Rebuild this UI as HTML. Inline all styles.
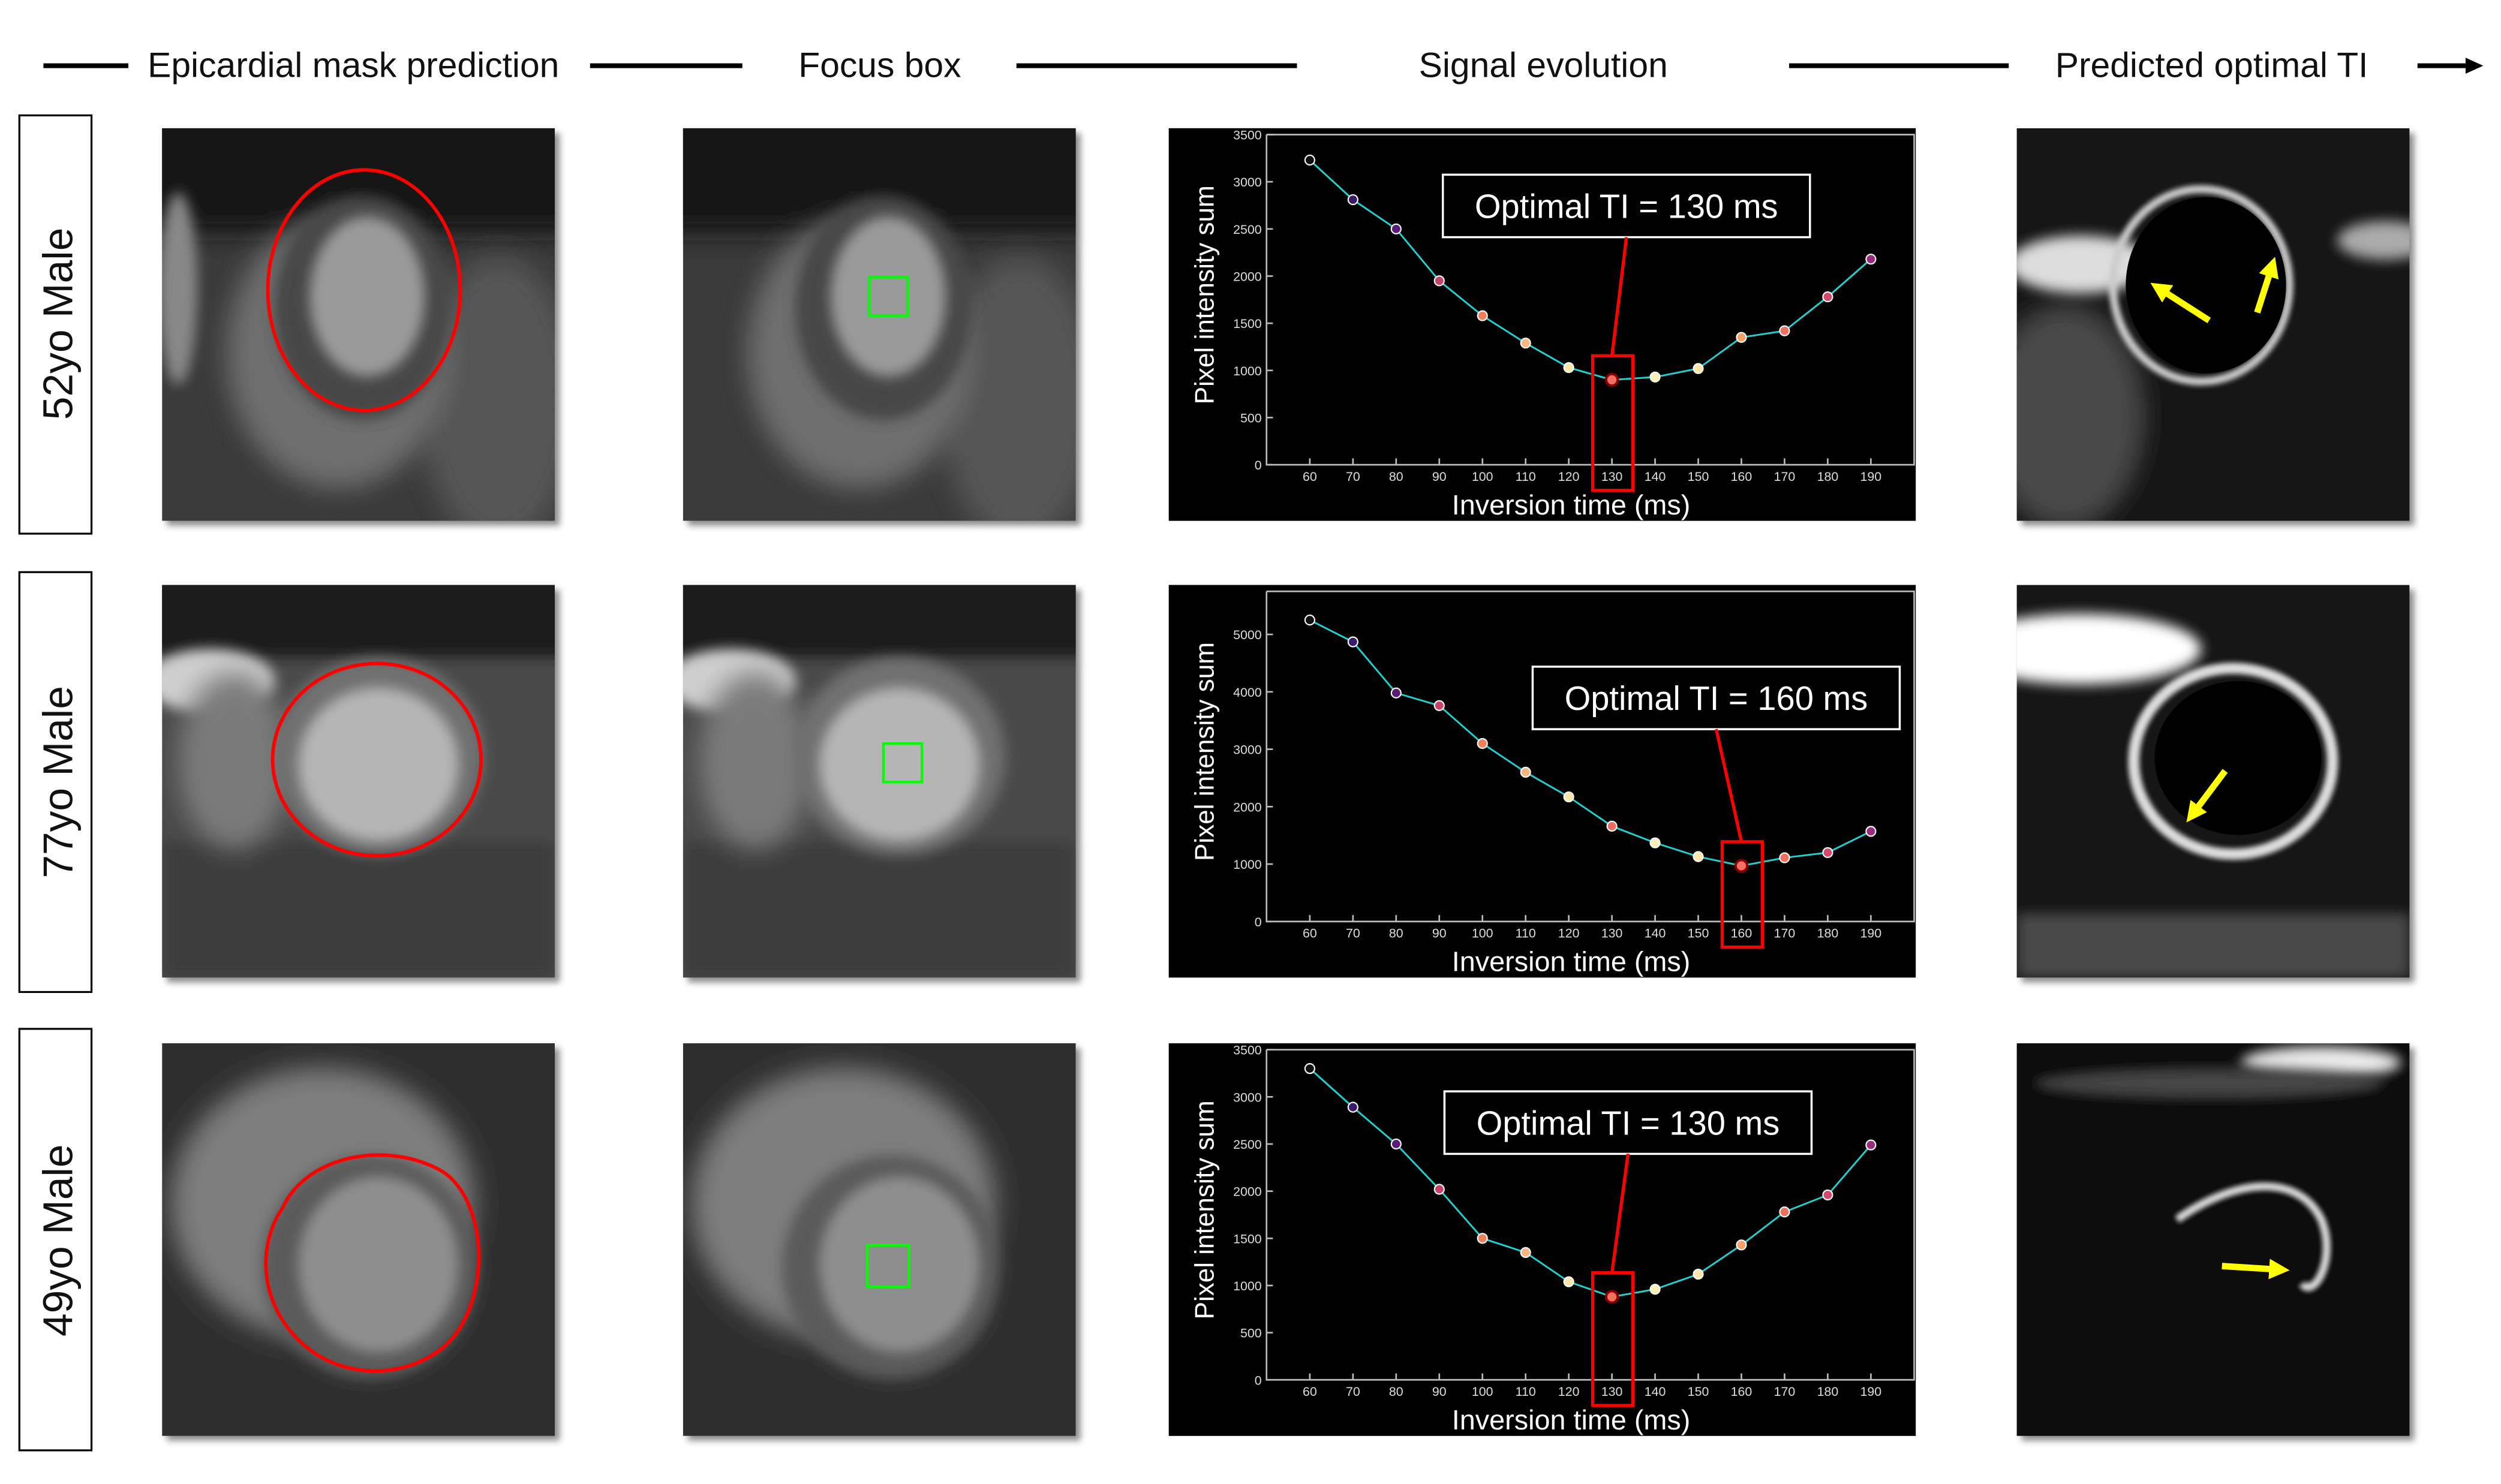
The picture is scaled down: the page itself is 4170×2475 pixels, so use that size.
<!DOCTYPE html>
<html><head><meta charset="utf-8"><style>
html,body{margin:0;padding:0;background:#fff;}
svg{display:block;}
text{font-family:"Liberation Sans",sans-serif;}
</style></head><body>
<svg id="fig" width="4170" height="2475" viewBox="0 0 1560 926" xmlns="http://www.w3.org/2000/svg">
<defs>
<filter id="b4" x="-50%" y="-50%" width="200%" height="200%"><feGaussianBlur stdDeviation="4"/></filter>
<filter id="b8" x="-50%" y="-50%" width="200%" height="200%"><feGaussianBlur stdDeviation="8"/></filter>
<filter id="b2" x="-50%" y="-50%" width="200%" height="200%"><feGaussianBlur stdDeviation="1.6"/></filter>
<filter id="sh" x="-10%" y="-10%" width="130%" height="130%"><feDropShadow dx="3" dy="3" stdDeviation="2" flood-color="#000" flood-opacity="0.45"/></filter>
<clipPath id="c"><rect x="0" y="0" width="245" height="245"/></clipPath>
<marker id="ah" viewBox="0 0 10 10" refX="2" refY="5" markerWidth="3.2" markerHeight="3.2" orient="auto"><polygon points="0,0 10,5 0,10" fill="#ff0"/></marker>
</defs>

<!-- header -->
<g fill="#111" font-size="22">
<line x1="27" y1="41" x2="80" y2="41" stroke="#000" stroke-width="3"/>
<text x="92" y="48">Epicardial mask prediction</text>
<line x1="368" y1="41" x2="463" y2="41" stroke="#000" stroke-width="3"/>
<text x="498" y="48">Focus box</text>
<line x1="634" y1="41" x2="809" y2="41" stroke="#000" stroke-width="3"/>
<text x="885" y="48">Signal evolution</text>
<line x1="1116" y1="41" x2="1253" y2="41" stroke="#000" stroke-width="3"/>
<text x="1282" y="48">Predicted optimal TI</text>
<line x1="1508" y1="41" x2="1540" y2="41" stroke="#000" stroke-width="3"/>
<polygon points="1538,36 1549,41 1538,46" fill="#000"/>
</g>

<!-- row labels -->
<g font-size="26" fill="#111">
<rect x="12" y="72" width="45" height="261" fill="#fff" stroke="#000" stroke-width="1.2"/>
<text transform="translate(45,202) rotate(-90)" text-anchor="middle">52yo Male</text>
<rect x="12" y="357" width="45" height="262" fill="#fff" stroke="#000" stroke-width="1.2"/>
<text transform="translate(45,488) rotate(-90)" text-anchor="middle">77yo Male</text>
<rect x="12" y="642" width="45" height="263" fill="#fff" stroke="#000" stroke-width="1.2"/>
<text transform="translate(45,774) rotate(-90)" text-anchor="middle">49yo Male</text>
</g>

<!-- row 1 images -->
<g transform="translate(101,80)" filter="url(#sh)">
 <g clip-path="url(#c)"><rect width="245" height="245" fill="#3a3a3a"/>
 <rect x="-20" y="-20" width="290" height="85" fill="#161616" filter="url(#b8)"/>
 <ellipse cx="210" cy="170" rx="50" ry="90" fill="#555" filter="url(#b8)"/>
 <ellipse cx="110" cy="140" rx="70" ry="85" fill="#6e6e6e" filter="url(#b8)"/>
 <ellipse cx="125" cy="112" rx="55" ry="70" fill="#464646" filter="url(#b4)"/>
 <ellipse cx="128" cy="105" rx="36" ry="50" fill="#9a9a9a" filter="url(#b4)"/>
 <ellipse cx="10" cy="100" rx="12" ry="60" fill="#888" filter="url(#b4)"/></g>
 <ellipse cx="126" cy="101" rx="60" ry="75" fill="none" stroke="#f00" stroke-width="2.2"/>
</g>
<g transform="translate(426,80)" filter="url(#sh)">
 <g clip-path="url(#c)"><rect width="245" height="245" fill="#3a3a3a"/>
 <rect x="-20" y="-20" width="290" height="85" fill="#161616" filter="url(#b8)"/>
 <ellipse cx="210" cy="170" rx="50" ry="90" fill="#555" filter="url(#b8)"/>
 <ellipse cx="110" cy="140" rx="70" ry="85" fill="#6e6e6e" filter="url(#b8)"/>
 <ellipse cx="125" cy="112" rx="55" ry="70" fill="#464646" filter="url(#b4)"/>
 <ellipse cx="128" cy="105" rx="36" ry="50" fill="#9a9a9a" filter="url(#b4)"/></g>
 <rect x="116" y="93" width="24" height="24" fill="none" stroke="#0f0" stroke-width="1.6"/>
</g>
<g transform="translate(1258,80)" filter="url(#sh)">
 <g clip-path="url(#c)"><rect width="245" height="245" fill="#151515"/>
 <ellipse cx="30" cy="180" rx="50" ry="70" fill="#4a4a4a" filter="url(#b8)"/>
 <ellipse cx="40" cy="85" rx="45" ry="18" fill="#ddd" filter="url(#b4)"/>
 <ellipse cx="115" cy="98" rx="55" ry="60" fill="none" stroke="#ccc" stroke-width="5" filter="url(#b2)"/>
 <ellipse cx="118" cy="98" rx="50" ry="55" fill="#000"/>
 <ellipse cx="230" cy="70" rx="30" ry="12" fill="#aaa" filter="url(#b4)"/></g>
 <line x1="120" y1="120" x2="92" y2="102" stroke="#ff0" stroke-width="4" marker-end="url(#ah)"/>
 <line x1="150" y1="115" x2="158" y2="90" stroke="#ff0" stroke-width="4" marker-end="url(#ah)"/>
</g>

<!-- row 2 images -->
<g transform="translate(101,365)" filter="url(#sh)">
 <g clip-path="url(#c)"><rect width="245" height="245" fill="#4a4a4a"/>
 <rect x="-20" y="-20" width="290" height="65" fill="#1e1e1e" filter="url(#b4)"/>
 <rect y="160" width="245" height="85" fill="#3e3e3e" filter="url(#b4)"/>
 <ellipse cx="30" cy="60" rx="40" ry="20" fill="#cfcfcf" filter="url(#b4)"/>
 <ellipse cx="45" cy="110" rx="35" ry="55" fill="#7a7a7a" filter="url(#b8)"/>
 <ellipse cx="135" cy="107" rx="66" ry="62" fill="#707070" filter="url(#b4)"/>
 <ellipse cx="135" cy="112" rx="50" ry="48" fill="#b5b5b5" filter="url(#b4)"/></g>
 <ellipse cx="134" cy="109" rx="65" ry="60" fill="none" stroke="#f00" stroke-width="2.2"/>
</g>
<g transform="translate(426,365)" filter="url(#sh)">
 <g clip-path="url(#c)"><rect width="245" height="245" fill="#4a4a4a"/>
 <rect x="-20" y="-20" width="290" height="65" fill="#1e1e1e" filter="url(#b4)"/>
 <rect y="160" width="245" height="85" fill="#3e3e3e" filter="url(#b4)"/>
 <ellipse cx="30" cy="60" rx="40" ry="20" fill="#cfcfcf" filter="url(#b4)"/>
 <ellipse cx="45" cy="110" rx="35" ry="55" fill="#7a7a7a" filter="url(#b8)"/>
 <ellipse cx="135" cy="107" rx="66" ry="62" fill="#707070" filter="url(#b4)"/>
 <ellipse cx="135" cy="112" rx="50" ry="48" fill="#b5b5b5" filter="url(#b4)"/></g>
 <rect x="125" y="99" width="24" height="24" fill="none" stroke="#0f0" stroke-width="1.6"/>
</g>
<g transform="translate(1258,365)" filter="url(#sh)">
 <g clip-path="url(#c)"><rect width="245" height="245" fill="#151515"/>
 <ellipse cx="40" cy="40" rx="75" ry="22" fill="#fff" filter="url(#b4)"/>
 <rect y="205" width="245" height="40" fill="#4a4a4a" filter="url(#b4)"/>
 <ellipse cx="135" cy="110" rx="62" ry="58" fill="none" stroke="#ddd" stroke-width="7" filter="url(#b2)"/>
 <ellipse cx="138" cy="108" rx="52" ry="48" fill="#000"/></g>
 <line x1="130" y1="116" x2="112" y2="140" stroke="#ff0" stroke-width="4" marker-end="url(#ah)"/>
</g>

<!-- row 3 images -->
<g transform="translate(101,651)" filter="url(#sh)">
 <g clip-path="url(#c)"><rect width="245" height="245" fill="#2e2e2e"/>
 <ellipse cx="100" cy="100" rx="95" ry="85" fill="#7d7d7d" filter="url(#b8)"/>
 <ellipse cx="130" cy="140" rx="68" ry="70" fill="#5a5a5a" filter="url(#b4)"/>
 <ellipse cx="135" cy="138" rx="50" ry="55" fill="#8e8e8e" filter="url(#b4)"/></g>
 <path d="M75,103 C90,70 140,60 175,80 C205,100 205,165 175,190 C150,210 110,210 85,185 C60,160 60,125 75,103 Z" fill="none" stroke="#f00" stroke-width="2.2"/>
</g>
<g transform="translate(426,651)" filter="url(#sh)">
 <g clip-path="url(#c)"><rect width="245" height="245" fill="#2e2e2e"/>
 <ellipse cx="100" cy="100" rx="95" ry="85" fill="#7d7d7d" filter="url(#b8)"/>
 <ellipse cx="130" cy="140" rx="68" ry="70" fill="#5a5a5a" filter="url(#b4)"/>
 <ellipse cx="135" cy="138" rx="50" ry="55" fill="#8e8e8e" filter="url(#b4)"/></g>
 <rect x="115" y="126" width="26" height="26" fill="none" stroke="#0f0" stroke-width="1.6"/>
</g>
<g transform="translate(1258,651)" filter="url(#sh)">
 <g clip-path="url(#c)"><rect width="245" height="245" fill="#080808"/>
 <ellipse cx="190" cy="12" rx="50" ry="10" fill="#eee" filter="url(#b4)"/>
 <path d="M100,110 C135,85 175,80 190,110 C200,135 185,160 178,150" fill="none" stroke="#ddd" stroke-width="5" filter="url(#b2)"/>
 <ellipse cx="120" cy="25" rx="110" ry="10" fill="#444" filter="url(#b4)"/></g>
 <line x1="128" y1="139" x2="160" y2="141" stroke="#ff0" stroke-width="4" marker-end="url(#ah)"/>
</g>

<g id="charts"></g>
</svg>
<script>
const categories = [60,70,80,90,100,110,120,130,140,150,160,170,180,190];
const seriesRow1 = [3230,2810,2500,1950,1580,1290,1030,900,930,1020,1350,1420,1780,2180];
const seriesRow2 = [5250,4870,3980,3760,3100,2600,2170,1660,1370,1130,970,1110,1200,1570];
const seriesRow3 = [3300,2890,2500,2020,1500,1350,1040,880,960,1120,1430,1780,1960,2490];
const yTicksRow1 = [0,500,1000,1500,2000,2500,3000,3500];
const yTicksRow2 = [0,1000,2000,3000,4000,5000];
const yTicksRow3 = [0,500,1000,1500,2000,2500,3000,3500];
const yMaxes = [3500,5750,3500];
const optimalTI = [130,160,130];
const markerColors = ['#111','#3b1a6e','#5c1a7a','#c7436a','#f0805a','#fbb57e','#fde7a8','#f26a60','#fcf0b4','#fde7a8','#f8a06a','#f07060','#d5486e','#9c2b7e'];

const NS = 'http://www.w3.org/2000/svg';
function mk(tag, attrs, parent){const e=document.createElementNS(NS,tag);for(const k in attrs)e.setAttribute(k,attrs[k]);parent.appendChild(e);return e;}
const root = document.getElementById('charts');
const rows = [
 {top:80, series:seriesRow1, ticks:yTicksRow1, box:[900,109], lbl:'row1'},
 {top:365, series:seriesRow2, ticks:yTicksRow2, box:[956,416], lbl:'row2'},
 {top:651, series:seriesRow3, ticks:yTicksRow3, box:[901,681], lbl:'row3'}
];
rows.forEach((r,i)=>{
 const g = mk('g',{},root);
 
 
 const x0=729, w=466, y0=r.top, h=245;
 mk('rect',{x:x0,y:y0,width:w,height:h,fill:'#000'},g);
 const pl=790, pr=1194, pt=y0+4, pb=y0+210;
 const xs = v => 817 + (v-60)*(1167-817)/130;
 const ys = v => pb - v*(pb-pt)/yMaxes[i];
 mk('polyline',{points:`${pl},${pt} ${pr},${pt} ${pr},${pb} ${pl},${pb} ${pl},${pt}`,fill:'none',stroke:'#bbb','stroke-width':1},g);
 r.ticks.forEach(t=>{
  const tl=mk('text',{x:pl-3,y:ys(t)+3,'text-anchor':'end','font-size':8,fill:'#ddd'},g);
  tl.textContent=t;
  
  
  mk('line',{x1:pl,x2:pl+4,y1:ys(t),y2:ys(t),stroke:'#bbb'},g);
 });
 categories.forEach(c=>{
  const tl=mk('text',{x:xs(c),y:pb+10,'text-anchor':'middle','font-size':8,fill:'#ddd'},g);
  tl.textContent=c;
  
  
  mk('line',{x1:xs(c),x2:xs(c),y1:pb,y2:pb-4,stroke:'#bbb'},g);
 });
 const yl=mk('text',{transform:`translate(757,${y0+104}) rotate(-90)`,'text-anchor':'middle','font-size':16.5,fill:'#fff'},g);
 yl.textContent='Pixel intensity sum';
 
 
 const xl=mk('text',{x:980,y:y0+241,'text-anchor':'middle','font-size':17.5,fill:'#fff'},g);
 xl.textContent='Inversion time (ms)';
 
 
 const line=mk('polyline',{points:categories.map((c,k)=>xs(c)+','+ys(r.series[k])).join(' '),fill:'none',stroke:'#22d0d0','stroke-width':1.1},g);
 
 
 categories.forEach((c,k)=>{
  const opt = c===optimalTI[i];
  const p=mk('circle',{cx:xs(c),cy:ys(r.series[k]),r:opt?3.6:3,fill:opt?'#f47060':markerColors[k],stroke:opt?'#8b0000':'#fff','stroke-width':opt?1.5:0.8},g);
  
  
 });
 const ox = xs(optimalTI[i]);
 const ann = mk('g',{},g);
 
 
 const bx=r.box[0], by=r.box[1];
 mk('rect',{x:bx,y:by,width:229,height:39,fill:'#000',stroke:'#fff','stroke-width':1.3},ann);
 const at=mk('text',{x:bx+114.5,y:by+27,'text-anchor':'middle','font-size':21,fill:'#fff'},ann);
 at.textContent='Optimal TI = '+optimalTI[i]+' ms';
 const minY = ys(r.series[categories.indexOf(optimalTI[i])]);
 const rectTop = minY-15;
 mk('line',{x1:bx+114.5,y1:by+39,x2:ox,y2:rectTop,stroke:'#f00','stroke-width':2},ann);
 mk('rect',{x:ox-12,y:rectTop,width:25,height:pb+16-rectTop,fill:'none',stroke:'#f00','stroke-width':2},ann);
});
</script>
</body></html>
